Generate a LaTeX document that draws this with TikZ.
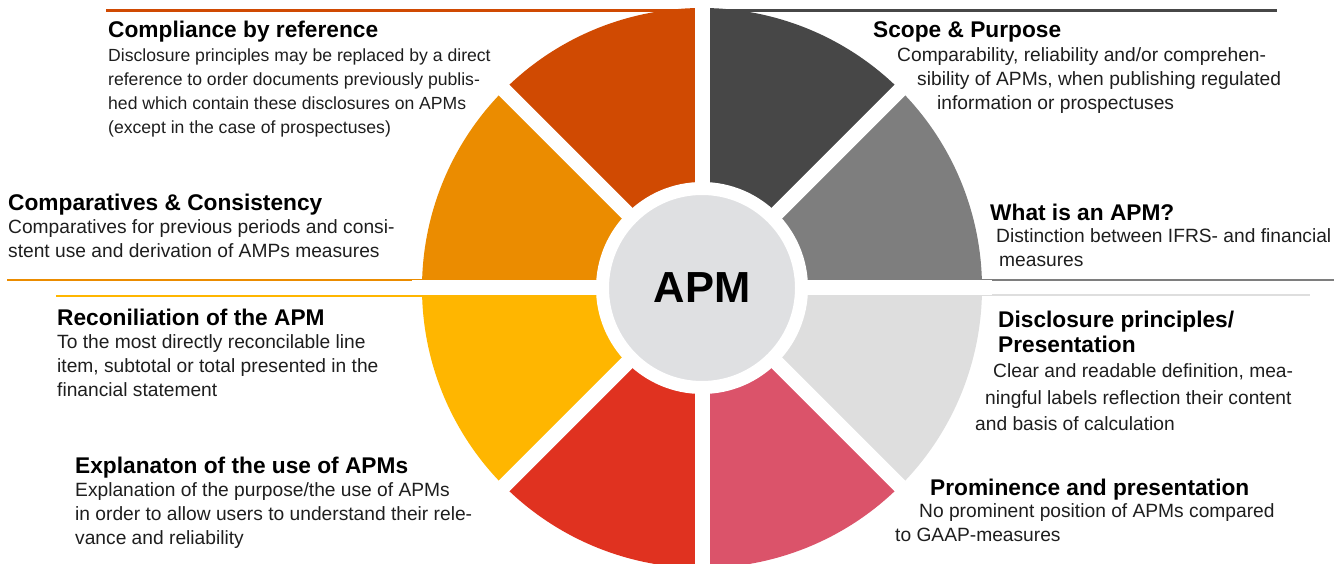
\documentclass[tikz,border=0pt]{standalone}
\usepackage{fontspec}
\setmainfont{Liberation Sans}
\usetikzlibrary{positioning}
\definecolor{segrust}{RGB}{208,74,2}
\definecolor{segorange}{RGB}{235,140,0}
\definecolor{segyellow}{RGB}{255,182,0}
\definecolor{segred}{RGB}{224,50,32}
\definecolor{segrose}{RGB}{219,83,106}
\definecolor{seglightgray}{RGB}{222,222,222}
\definecolor{seggray}{RGB}{126,126,126}
\definecolor{segdarkgray}{RGB}{71,71,71}
\definecolor{hubgray}{RGB}{223,224,226}
\definecolor{textgray}{RGB}{30,30,30}
\tikzset{
    % Text styles (base = baseline of the last line)
    topic title/.style={
        anchor=base west,
        inner sep=0pt,
        align=left,
        font=\bfseries\fontsize{22.7}{25}\selectfont
    },
    topic text/.style={
        anchor=base west,
        inner sep=0pt,
        align=left,
        text=textgray,
        font=\fontsize{19.2}{24}\selectfont
    },
    % Hub style
    hub node/.style={
        circle,
        fill=hubgray,
        draw=white,
        line width=13pt,
        minimum size=199pt,
        inner sep=0pt,
        font=\bfseries\fontsize{43.5}{48}\selectfont
    },
    % Rule under the topics
    rule line/.style={
        line width=2.6pt
    }
}

\begin{document}
\begin{tikzpicture}[x=1pt,y=1pt]
    \useasboundingbox (0,0) rectangle (1343,564);

    % Rules along the wheel
    \draw[rule line, segrust] (106,553.5) -- (694,553.5);
    \draw[rule line, segdarkgray] (710,553.5) -- (1277,553.5);
    \draw[rule line, segorange] (7,284) -- (694,284);
    \draw[rule line, seggray] (710,284) -- (1334,284);
    \draw[rule line, segyellow] (56,268) -- (694,268);
    \draw[rule line, seglightgray] (710,269) -- (1310,269);

    % Wheel segments
    \begin{scope}[shift={(702,276)}]
        \foreach \a/\c in {90/segdarkgray,45/seggray,0/seglightgray,-45/segrose,
                           -90/segred,-135/segyellow,180/segorange,135/segrust} {
            \fill[\c] (0,0) -- (\a:280pt) arc[start angle=\a, end angle=\a-45, radius=280pt] -- cycle;
        }
        \foreach \a in {0,45,90,135} {
            \draw[white, line width=15pt] (\a:-290pt) -- (\a:290pt);
        }
        \node[hub node] (hub) at (0,0) {APM};
    \end{scope}

    % Left topics
    \node[topic title] (reference) at (108,526) {Compliance by reference};
    \node[topic text, font=\fontsize{17.6}{24}\selectfont] (reference text) at (108,430)
        {Disclosure principles may be replaced by a direct\\
         reference to order documents previously publis-\\
         hed which contain these disclosures on APMs\\
         (except in the case of prospectuses)};

    \node[topic title] (comparatives) at (8,353) {Comparatives \& Consistency};
    \node[topic text] (comparatives text) at (8,306)
        {Comparatives for previous periods and consi-\\
         stent use and derivation of AMPs measures};

    \node[topic title] (reconciliation) at (57,238) {Reconiliation of the APM};
    \node[topic text] (reconciliation text) at (57,167)
        {To the most directly reconcilable line\\
         item, subtotal or total presented in the\\
         financial statement};

    \node[topic title] (explanation) at (75,90) {Explanaton of the use of APMs};
    \node[topic text] (explanation text) at (75,19)
        {Explanation of the purpose/the use of APMs\\
         in order to allow users to understand their rele-\\
         vance and reliability};

    % Right topics
    \node[topic title] (scope) at (873,526) {Scope \& Purpose};
    \node[topic text] (scope text) at (897,454)
        {Comparability, reliability and/or comprehen-\\
         \hspace*{20pt}sibility of APMs, when publishing regulated\\
         \hspace*{40pt}information or prospectuses};

    \node[topic title] (definition) at (990,343) {What is an APM?};
    \node[topic text] (definition text) at (996,297)
        {Distinction between IFRS- and financial\\
         \hspace*{3pt}measures};

    \node[topic title] (disclosure) at (998,211) {Disclosure principles/\\Presentation};
    \node[topic text, font=\fontsize{19.2}{26.5}\selectfont] (disclosure text) at (975,133)
        {\hspace*{18pt}Clear and readable definition, mea-\\
         \hspace*{10pt}ningful labels reflection their content\\
         and basis of calculation};

    \node[topic title] (prominence) at (930,68) {Prominence and presentation};
    \node[topic text] (prominence text) at (895,22)
        {\hspace*{24pt}No prominent position of APMs compared\\
         to GAAP-measures};
\end{tikzpicture}
\end{document}
